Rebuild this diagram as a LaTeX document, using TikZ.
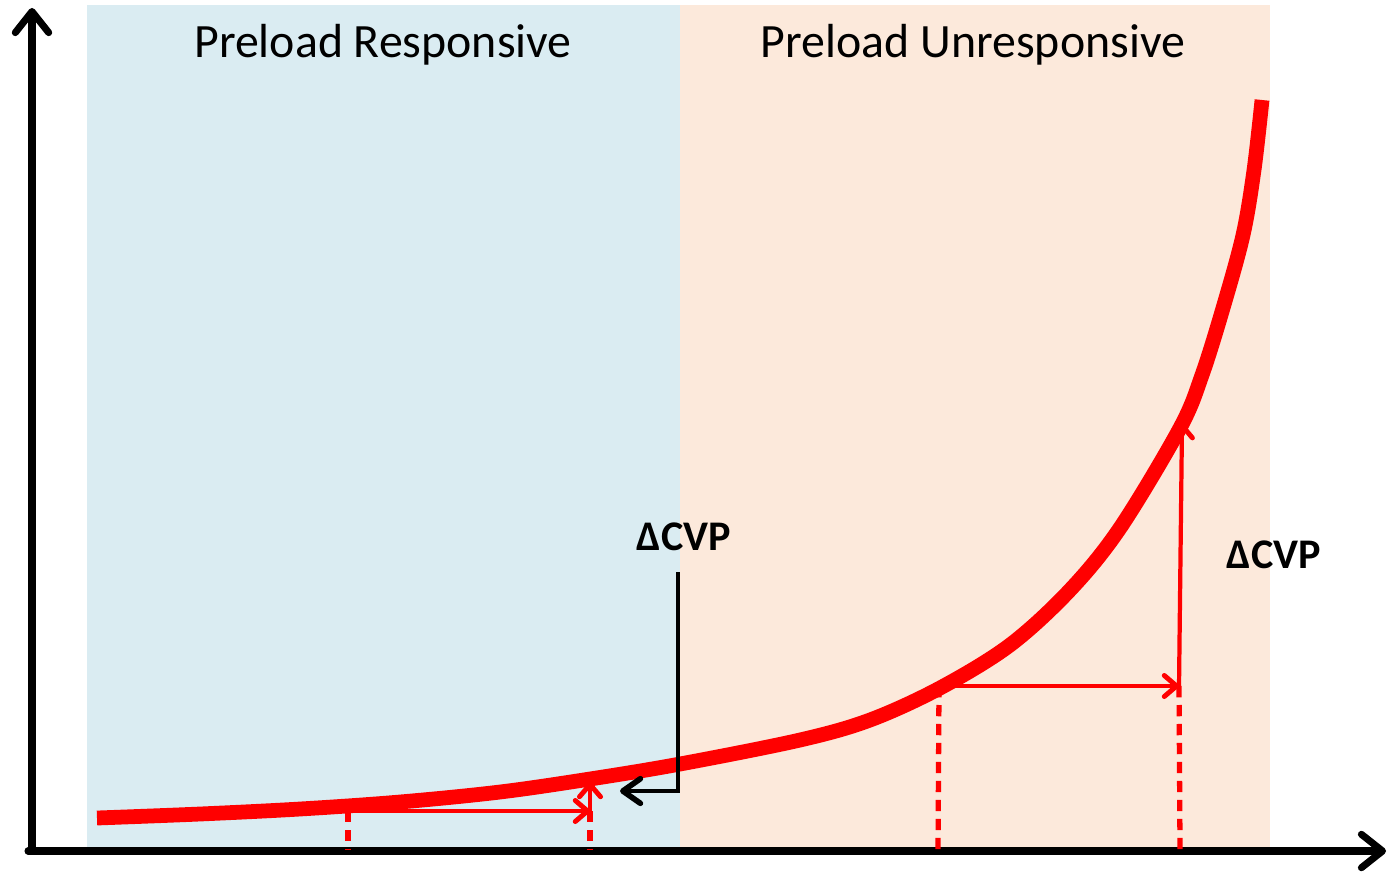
\documentclass[tikz,border=0pt]{standalone}
\usepackage{fontspec}
\setmainfont{Carlito}
\usepackage{tikz}
\usetikzlibrary{arrows.meta}
\usetikzlibrary{calc}

\definecolor{respblue}{HTML}{DAECF2}
\definecolor{unresporange}{HTML}{FCE9DB}

\begin{document}
\begin{tikzpicture}[x=0.01cm, y=-0.01cm,
	axis/.style={line width=2pt, line cap=round, -{Straight Barb[length=6pt, width=9.5pt, round]}},
	delta/.style={red, line width=1.2pt, -{Straight Barb[length=3.5pt, width=6pt, round, line width=1.4pt]}},
	drop/.style={red, line width=1.5pt, dash pattern=on 3.2pt off 2.2pt},
	title/.style={font=\fontsize{13.6}{16}\selectfont},
	dcvp/.style={font=\fontsize{12}{14}\selectfont\bfseries}]
\useasboundingbox (0,0) rectangle (1392,873);
% zones
\fill[respblue] (87,5) rectangle (680,850);
\fill[unresporange] (680,5) rectangle (1270,850);
\node[title] (resp) at (383,45) {Preload Responsive};
\node[title] (unresp) at (973,45) {Preload Unresponsive};
% axes
\coordinate (o) at (32,851);
\coordinate (ytop) at (32,8);
\coordinate (xend) at (1386,851);
\draw[axis] (o) -- (ytop);
\draw[axis] (28,851) -- (xend);
% Frank-Starling curve
\draw[red, line width=4.2pt] plot[smooth, tension=0.55] coordinates {
	(97,818) (200,814) (300,809) (400,802) (500,792) (590,779) (680,764)
	(800,740) (870,720) (940,688) (1010,645) (1070,590) (1120,528)
	(1180,428) (1202,375) (1223,308) (1243,235) (1254,170) (1262,100)};
% responsive zone
\coordinate (r1) at (348,811);
\coordinate (r2) at (590,811);
\coordinate (r3) at (590,782);
\draw[drop] (r1) -- (348,850);
\draw[drop] (r2) -- (590,850);
\draw[delta] (r1) -- (r2);
\draw[delta] (r2) -- (r3);
% unresponsive zone
\coordinate (u1) at (939,686);
\coordinate (u2) at (1179,686);
\coordinate (u3) at (1182,423);
\draw[drop] (u1) -- (938,850);
\draw[drop] (u2) -- (1180,850);
\draw[delta] (u1) -- (u2);
\draw[delta] (u2) -- (u3);
% labels
\node[dcvp] (dl) at (684,537) {ΔCVP};
\node[dcvp] (dr) at (1274,555) {ΔCVP};
\coordinate (b1) at (678,572);
\coordinate (b2) at (620,791);
\draw[line width=1.3pt, -{Straight Barb[length=5pt, width=7pt, round, line width=1.6pt]}]
	(b1) |- (b2);
\end{tikzpicture}
\end{document}
